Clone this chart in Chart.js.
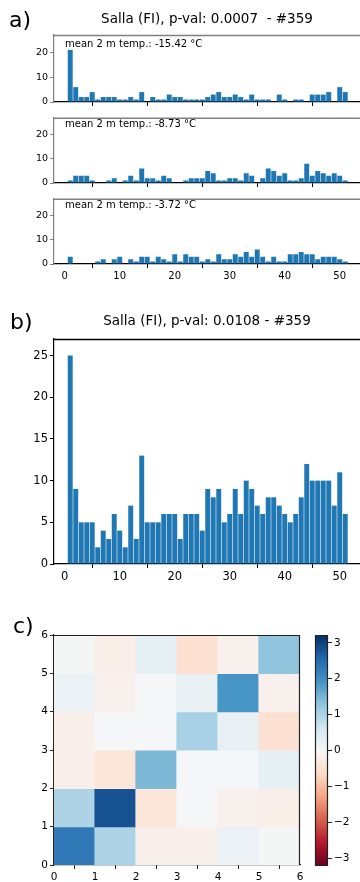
<!DOCTYPE html>
<html><head><meta charset="utf-8">
<script src="https://cdn.jsdelivr.net/npm/chart.js@4/dist/chart.umd.min.js"></script>
<style>
html,body{margin:0;padding:0;background:#fff;}
body{width:360px;height:882px;position:relative;overflow:hidden;font-family:'DejaVu Sans',sans-serif;}
canvas{position:absolute;}
.t{position:absolute;white-space:pre;line-height:1;color:#000;font-family:'DejaVu Sans',sans-serif;}
</style></head><body>
<canvas id="a1" width="360" height="110" style="left:0;top:0"></canvas>
<canvas id="a2" width="360" height="81" style="left:0;top:110px"></canvas>
<canvas id="a3" width="360" height="90" style="left:0;top:191px"></canvas>
<canvas id="b" width="360" height="260" style="left:0;top:330px"></canvas>
<canvas id="c" width="312" height="257" style="left:0;top:625px"></canvas>
<canvas id="cb" width="60" height="257" style="left:300px;top:625px"></canvas>
<div id="labels"></div>
<script>
// ---------------- data ----------------
const bins = [1,2,3,4,5,6,7,8,9,10,11,12,13,14,15,16,17,18,19,20,21,22,23,24,25,26,27,28,29,30,31,32,33,34,35,36,37,38,39,40,41,42,43,44,45,46,47,48,49,50,51];
const countsCold = [21,6,2,2,4,1,2,2,2,1,1,2,1,4,0,2,1,1,3,2,2,1,1,1,1,2,3,4,2,2,3,2,1,3,1,1,1,0,3,1,0,1,1,0,3,3,3,4,0,6,4];
const countsMid  = [1,3,3,3,1,0,0,1,2,0,1,3,1,6,2,2,1,3,2,0,0,1,2,2,2,5,4,1,1,2,2,1,4,3,0,2,6,5,3,4,1,1,2,8,3,5,4,3,4,3,1];
const countsWarm = [3,0,0,0,0,1,2,0,2,3,0,2,1,3,3,1,3,2,1,4,1,4,3,3,1,2,1,4,2,2,4,3,5,3,6,3,1,3,1,1,4,4,5,4,4,2,3,3,3,2,1];
const countsAll  = [25,9,5,5,5,2,4,3,6,4,2,7,3,13,5,5,5,6,6,6,3,6,6,6,4,9,8,9,5,6,9,6,10,9,7,6,8,8,7,6,5,6,8,12,10,10,10,10,7,11,6];
const tempLabels = ['mean 2 m temp.: -15.42 °C','mean 2 m temp.: -8.73 °C','mean 2 m temp.: -3.72 °C'];
const titleA = 'Salla (FI), p-val: 0.0007  - #359';
const titleB = 'Salla (FI), p-val: 0.0108 - #359';
const xTicks = [0,10,20,30,40,50];
const yTicksA = [0,10,20];
const yTicksB = [0,5,10,15,20,25];
const gridTicks = [0,1,2,3,4,5,6];
const cbTicks = [-3,-2,-1,0,1,2,3];
// correlation-like matrix, row 0 = bottom row (y 0..1)
const corr = [
  [2.3, 1.0, -0.18, -0.18, 0.2, 0.05],
  [1.0, 2.8, -0.4, 0.04, -0.15, -0.2],
  [-0.18, -0.4, 1.45, 0.04, 0.04, 0.3],
  [-0.18, 0.04, 0.04, 1.05, 0.25, -0.5],
  [0.2, -0.15, 0.04, 0.25, 1.9, -0.15],
  [0.05, -0.2, 0.3, -0.5, -0.15, 1.3]
];
const VMIN = -3.22, VMAX = 3.22;

// ---------------- styling ----------------
const FONT = "'DejaVu Sans', sans-serif";
Chart.defaults.font.family = FONT;
Chart.defaults.color = '#000';
const BLUE = '#1f77b4';
const X_MIN = -1.95, X_MAX = X_MIN + 306/5.5;
const Y_MAX = 27;

const RDBU = ['#67001f','#b2182b','#d6604d','#f4a582','#fddbc7','#f7f7f7','#d1e5f0','#92c5de','#4393c3','#2166ac','#053061'];
function hex(h){return [parseInt(h.slice(1,3),16),parseInt(h.slice(3,5),16),parseInt(h.slice(5,7),16)];}
function cmap(v){
  let t=(v-VMIN)/(VMAX-VMIN); t=Math.max(0,Math.min(1,t));
  const p=t*10; const i=Math.min(9,Math.floor(p)); const f=p-i;
  const a=hex(RDBU[i]), b=hex(RDBU[i+1]);
  return 'rgb('+a.map((c,k)=>Math.round(c+(b[k]-c)*f)).join(',')+')';
}

function frame(color, sides, width){
  return {id:'frame', afterDraw(chart){
    const {ctx, chartArea:a} = chart; ctx.save(); ctx.strokeStyle=color; ctx.lineWidth=width||1;
    ctx.beginPath();
    if(sides.includes('t')){ctx.moveTo(a.left,a.top+0.5);ctx.lineTo(a.right,a.top+0.5);}
    if(sides.includes('r')){ctx.moveTo(a.right-0.5,a.top);ctx.lineTo(a.right-0.5,a.bottom);}
    if(sides.includes('l')){ctx.moveTo(a.left+0.5,a.top);ctx.lineTo(a.left+0.5,a.bottom);}
    if(sides.includes('b')){ctx.moveTo(a.left,a.bottom-0.5);ctx.lineTo(a.right,a.bottom-0.5);}
    ctx.stroke(); ctx.restore();
  }};
}

function histChart(id, counts, padTop, xH, showLabels, opts){
  const o = Object.assign({ySize:9.5, xSize:10, yTicks:yTicksA, spine:'#808080', topSpine:'#808080'}, opts||{});
  return new Chart(document.getElementById(id), {
    type:'bar',
    data:{datasets:[{data:bins.map((b,i)=>({x:b,y:counts[i]})), backgroundColor:BLUE, borderWidth:0,
      barPercentage:0.9, categoryPercentage:1.0}]},
    options:{
      responsive:false, animation:false, events:[],
      layout:{padding:{top:padTop,left:0,right:0,bottom:0}},
      plugins:{legend:{display:false}, tooltip:{enabled:false}},
      scales:{
        x:{type:'linear', min:X_MIN, max:X_MAX, offset:false, bounds:'data',
          afterBuildTicks:s=>{s.ticks=xTicks.map(v=>({value:v}));},
          afterFit:s=>{s.height=xH; s.paddingLeft=0; s.paddingRight=0;},
          grid:{display:true, drawOnChartArea:false, drawTicks:true, tickLength:4, color:'#000'},
          border:{display:true, color:'#000', width:1.2},
          ticks:{display:showLabels, font:{size:o.xSize}, color:'#000', padding:2, maxRotation:0, autoSkip:false}},
        y:{type:'linear', min:0, max:Y_MAX, bounds:'data',
          afterBuildTicks:s=>{s.ticks=o.yTicks.map(v=>({value:v}));},
          afterFit:s=>{s.width=54;},
          grid:{display:true, drawOnChartArea:false, drawTicks:true, tickLength:4, color:o.spine},
          border:{display:true, color:o.spine, width:1.2},
          ticks:{font:{size:o.ySize}, color:'#000', padding:2, autoSkip:false}}
      }
    },
    plugins:[frame(o.topSpine,'t',1.5)]
  });
}

histChart('a1', countsCold, 35, 8, false);
histChart('a2', countsMid, 6, 8, false);
histChart('a3', countsWarm, 6, 17, true);
histChart('b', countsAll, 6, 26, true, {ySize:11.5, xSize:11.5, yTicks:yTicksB, spine:'#000', topSpine:'#000'});

// heatmap
const cells = [];
corr.forEach((row,j)=>row.forEach((v,i)=>cells.push({x:i+0.5, y:[j,j+1], v:v})));
new Chart(document.getElementById('c'), {
  type:'bar',
  data:{datasets:[{data:cells, backgroundColor:ctx=>ctx.raw?cmap(ctx.raw.v):'#fff', borderWidth:0,
    barPercentage:1, categoryPercentage:1, inflateAmount:0.6}]},
  options:{
    responsive:false, animation:false, events:[],
    layout:{padding:{top:10,left:0,right:12,bottom:0}},
    plugins:{legend:{display:false}, tooltip:{enabled:false}},
    scales:{
      x:{type:'linear', min:0, max:6, offset:false, bounds:'data',
        afterBuildTicks:s=>{s.ticks=gridTicks.map(v=>({value:v}));},
        afterFit:s=>{s.height=17; s.paddingLeft=0; s.paddingRight=0;},
        grid:{display:true, drawOnChartArea:false, drawTicks:true, tickLength:4, color:'#222'},
        border:{display:true, color:'#222', width:1.2},
        ticks:{font:{size:10.5}, color:'#000', padding:2, maxRotation:0, autoSkip:false}},
      y:{type:'linear', min:0, max:6, bounds:'data',
        afterBuildTicks:s=>{s.ticks=gridTicks.map(v=>({value:v}));},
        afterFit:s=>{s.width=54; s.paddingTop=0; s.paddingBottom=0;},
        grid:{display:true, drawOnChartArea:false, drawTicks:true, tickLength:4, color:'#222'},
        border:{display:true, color:'#222', width:1.2},
        ticks:{font:{size:10.5}, color:'#000', padding:2, autoSkip:false}}
    }
  },
  plugins:[frame('#222','tr',1.2)]
});

// colorbar
const gradientPlugin = {id:'grad', beforeDatasetsDraw(chart){
  const {ctx, chartArea:a} = chart;
  const g = ctx.createLinearGradient(0,a.bottom,0,a.top);
  RDBU.forEach((c,i)=>g.addColorStop(i/10,c));
  ctx.save(); ctx.fillStyle=g; ctx.fillRect(a.left,a.top,a.right-a.left,a.bottom-a.top); ctx.restore();
}};
new Chart(document.getElementById('cb'), {
  type:'bar',
  data:{labels:[], datasets:[]},
  options:{
    responsive:false, animation:false, events:[],
    layout:{padding:{top:10,left:15,right:0,bottom:16}},
    plugins:{legend:{display:false}, tooltip:{enabled:false}},
    scales:{
      x:{display:false},
      y:{type:'linear', position:'right', min:VMIN, max:VMAX, bounds:'data',
        afterBuildTicks:s=>{s.ticks=cbTicks.map(v=>({value:v}));},
        afterFit:s=>{s.width=32; s.paddingTop=0; s.paddingBottom=0;},
        grid:{display:true, drawOnChartArea:false, drawTicks:true, tickLength:4, color:'#222'},
        border:{display:false},
        ticks:{font:{size:10.5}, color:'#000', padding:2, autoSkip:false,
          callback:v=>(v<0?'\u2212':'')+Math.abs(v)}}
    }
  },
  plugins:[gradientPlugin, frame('#222','tlrb',1.2)]
});

// text labels (baseline positioned)
function txt(s, size, left, baseline, center){
  const d=document.createElement('div'); d.className='t'; d.textContent=s;
  d.style.fontSize=size+'px';
  d.style.top=(baseline-0.846*size)+'px';
  if(center){d.style.left=(left-200)+'px'; d.style.width='400px'; d.style.textAlign='center';}
  else d.style.left=left+'px';
  document.getElementById('labels').appendChild(d);
}
txt('a)', 22, 9, 27.5);
txt(titleA, 13.5, 207, 23.5, true);
txt(tempLabels[0], 10, 65, 47);
txt(tempLabels[1], 10, 65, 127.5);
txt(tempLabels[2], 10, 65, 208);
txt('b)', 22, 10, 330);
txt(titleB, 13.5, 207, 325, true);
txt('c)', 22, 13, 634);
</script>
</body></html>
